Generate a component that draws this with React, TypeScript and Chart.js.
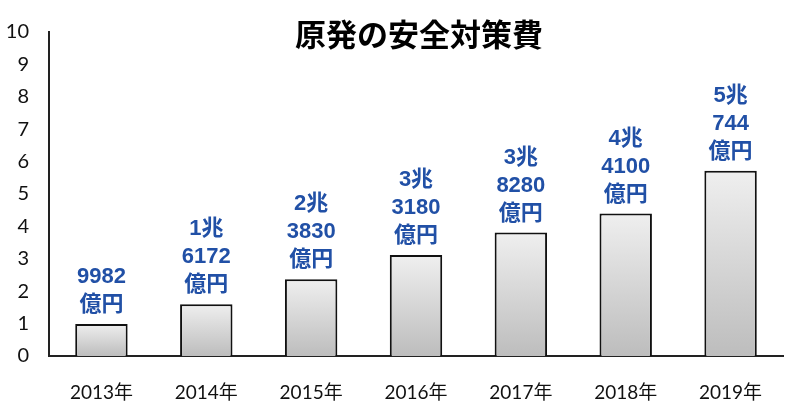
import React, { useEffect, useRef } from "react";
import { Chart, registerables } from "chart.js";

Chart.register(...registerables);

const categories = ["2013年", "2014年", "2015年", "2016年", "2017年", "2018年", "2019年"];
const barValues = [0.99, 1.6, 2.37, 3.12, 3.81, 4.4, 5.72];
const valueLabels = [
  ["9982", "億円"],
  ["1兆", "6172", "億円"],
  ["2兆", "3830", "億円"],
  ["3兆", "3180", "億円"],
  ["3兆", "8280", "億円"],
  ["4兆", "4100", "億円"],
  ["5兆", "744", "億円"],
];
const titleText = "原発の安全対策費";
const yTicks = [0, 1, 2, 3, 4, 5, 6, 7, 8, 9, 10];

const FONT = "Lato, 'Noto Sans CJK JP', sans-serif";
const LFONT = "'Liberation Sans', 'Noto Sans CJK JP', sans-serif";
const JFONT = "'Noto Sans CJK JP', 'Noto Sans', sans-serif";

const overlayPlugin = {
  id: "overlay",
  afterDatasetsDraw(chart: any) {
    const ctx = chart.ctx;
    const meta = chart.getDatasetMeta(0);
    ctx.save();
    ctx.fillStyle = "#2150a6";
    ctx.font = `bold 22px ${LFONT}`;
    ctx.textAlign = "center";
    ctx.textBaseline = "middle";
    meta.data.forEach((bar: any, i: number) => {
      const lines = valueLabels[i];
      const lh = 28;
      const bottom = bar.y - 19;
      for (let k = 0; k < lines.length; k++) {
        const y = bottom - (lines.length - 1 - k) * lh;
        ctx.fillText(lines[k], bar.x, y);
      }
    });
    ctx.fillStyle = "#000";
    ctx.font = `bold 31px ${JFONT}`;
    ctx.fillText(titleText, 419, 34);
    ctx.restore();
  },
};

export default function App() {
  const ref = useRef<HTMLCanvasElement | null>(null);
  useEffect(() => {
    const canvas = ref.current!;
    const chart = new Chart(canvas, {
      type: "bar",
      data: {
        labels: categories,
        datasets: [
          {
            data: barValues,
            backgroundColor: (c: any) => {
              const { chart } = c;
              const area = chart.chartArea;
              const ys = chart.scales && chart.scales.y;
              if (!area || !ys || c.dataIndex === undefined) return "#dddddd";
              const top = ys.getPixelForValue(barValues[c.dataIndex]);
              if (!isFinite(top) || !isFinite(area.bottom)) return "#dddddd";
              const g = chart.ctx.createLinearGradient(0, top, 0, area.bottom);
              g.addColorStop(0, "#efefef");
              g.addColorStop(1, "#bdbdbd");
              return g;
            },
            borderColor: "#111",
            borderWidth: 2,
            barPercentage: 0.5,
            categoryPercentage: 1,
          },
        ],
      },
      options: {
        responsive: false,
        animation: false,
        layout: { padding: { top: 29, right: 17, bottom: 0, left: 0 } },
        plugins: { legend: { display: false }, tooltip: { enabled: false }, title: { display: false } },
        scales: {
          x: {
            grid: { display: false, drawTicks: false },
            border: { display: true, color: "#222", width: 2 },
            ticks: { color: "#111", font: { family: FONT, size: 19 }, padding: 25 },
            afterFit: (s: any) => { s.height = 61; },
          },
          y: {
            min: 0,
            max: 10,
            afterBuildTicks: (s: any) => { s.ticks = yTicks.map((v) => ({ value: v })); },
            grid: { display: false, drawTicks: false },
            border: { display: true, color: "#222", width: 2 },
            ticks: { color: "#111", font: { family: FONT, size: 20 }, padding: 20 },
            afterFit: (s: any) => { s.width = 49; },
          },
        },
      },
      plugins: [overlayPlugin],
    });
    chart.update();
    return () => chart.destroy();
  }, []);
  return (
    <div style={{ position: "fixed", left: 0, top: 0, width: 800, height: 417, background: "#fff" }}>
      <canvas ref={ref} width={800} height={417} style={{ width: 800, height: 417 }} />
    </div>
  );
}
